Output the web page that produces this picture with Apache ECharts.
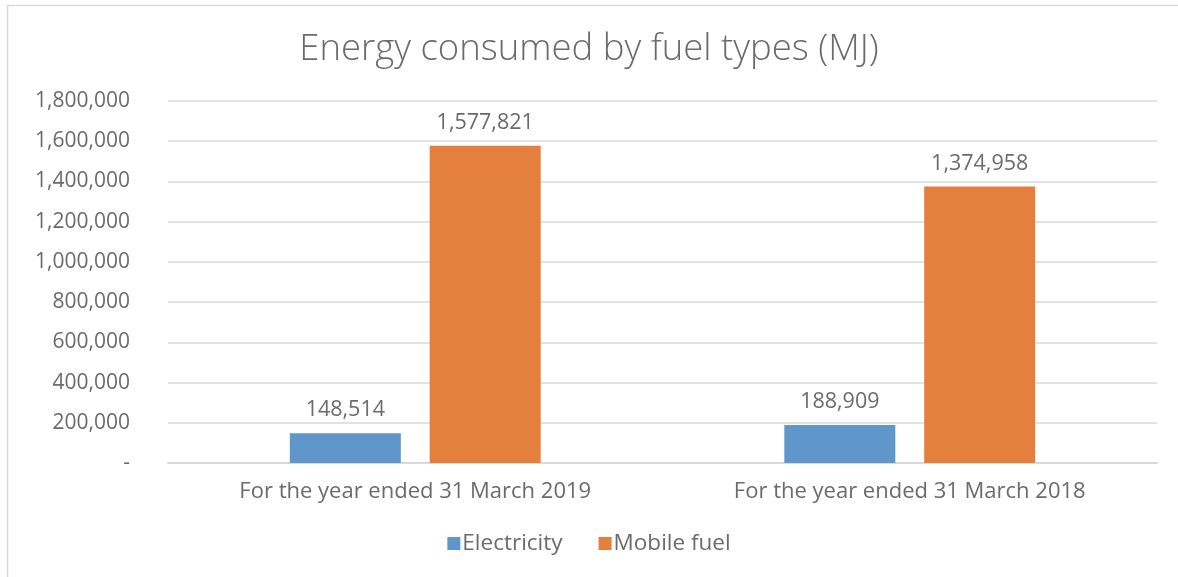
<!DOCTYPE html>
<html><head><meta charset="utf-8">
<script src="https://cdn.jsdelivr.net/npm/echarts@6/dist/echarts.min.js"></script>
<style>html,body{margin:0;padding:0;background:#fff}#c{width:1178px;height:577px}</style>
</head><body><div id="c"></div>
<script>
const categories = ['For the year ended 31 March 2019', 'For the year ended 31 March 2018'];
const electricity = [148514, 188909];
const mobileFuel = [1577821, 1374958];
const seriesNames = ['Electricity', 'Mobile fuel'];
const titleText = 'Energy consumed by fuel types (MJ)';

const font = '"Open Sans", "Noto Sans", sans-serif';
const fmt = v => v === 0 ? '-' : v.toLocaleString('en-US');
const chart = echarts.init(document.getElementById('c'), null, {renderer: 'canvas'});
chart.setOption({
  animation: false,
  color: ['#5F97CB', '#E57F3E'],
  graphic: [{type: 'rect', shape: {x: 7.5, y: 5.5, width: 1200, height: 600}, style: {fill: 'none', stroke: '#d9d9d9', lineWidth: 1.5}, silent: true}],
  title: {text: titleText, left: 'center', top: 26, textStyle: {fontFamily: font, fontSize: 36.5, fontWeight: 300, color: '#6b6b6b'}},
  legend: {bottom: 17, left: 'center', itemWidth: 13, itemHeight: 13, itemGap: 36,
    icon: 'rect', textStyle: {fontFamily: font, fontSize: 22.5, color: '#6b6b6b', padding: [0,0,0,-3]}},
  grid: {left: 168, right: 21, top: 101, bottom: 114, containLabel: false},
  xAxis: {type: 'category', data: categories,
    axisLine: {lineStyle: {color: '#d9d9d9', width: 2}}, axisTick: {show: false},
    axisLabel: {fontFamily: font, fontSize: 22, color: '#6b6b6b', margin: 18}},
  yAxis: {type: 'value', min: 0, max: 1800000, interval: 200000,
    axisLine: {show: false}, axisTick: {show: false},
    splitLine: {lineStyle: {color: '#d9d9d9', width: 1.5}},
    axisLabel: {fontFamily: font, fontSize: 21, color: '#6b6b6b', margin: 38, formatter: fmt}},
  series: [
    {name: seriesNames[0], type: 'bar', data: electricity, barWidth: 111, barGap: '26%',
     label: {show: true, position: 'top', distance: 12, fontFamily: font, fontSize: 21.5, color: '#6b6b6b', formatter: p => fmt(p.value)}},
    {name: seriesNames[1], type: 'bar', data: mobileFuel, barWidth: 111, barGap: '26%',
     label: {show: true, position: 'top', distance: 12, fontFamily: font, fontSize: 21.5, color: '#6b6b6b', formatter: p => fmt(p.value)}}
  ]
});
</script></body></html>
